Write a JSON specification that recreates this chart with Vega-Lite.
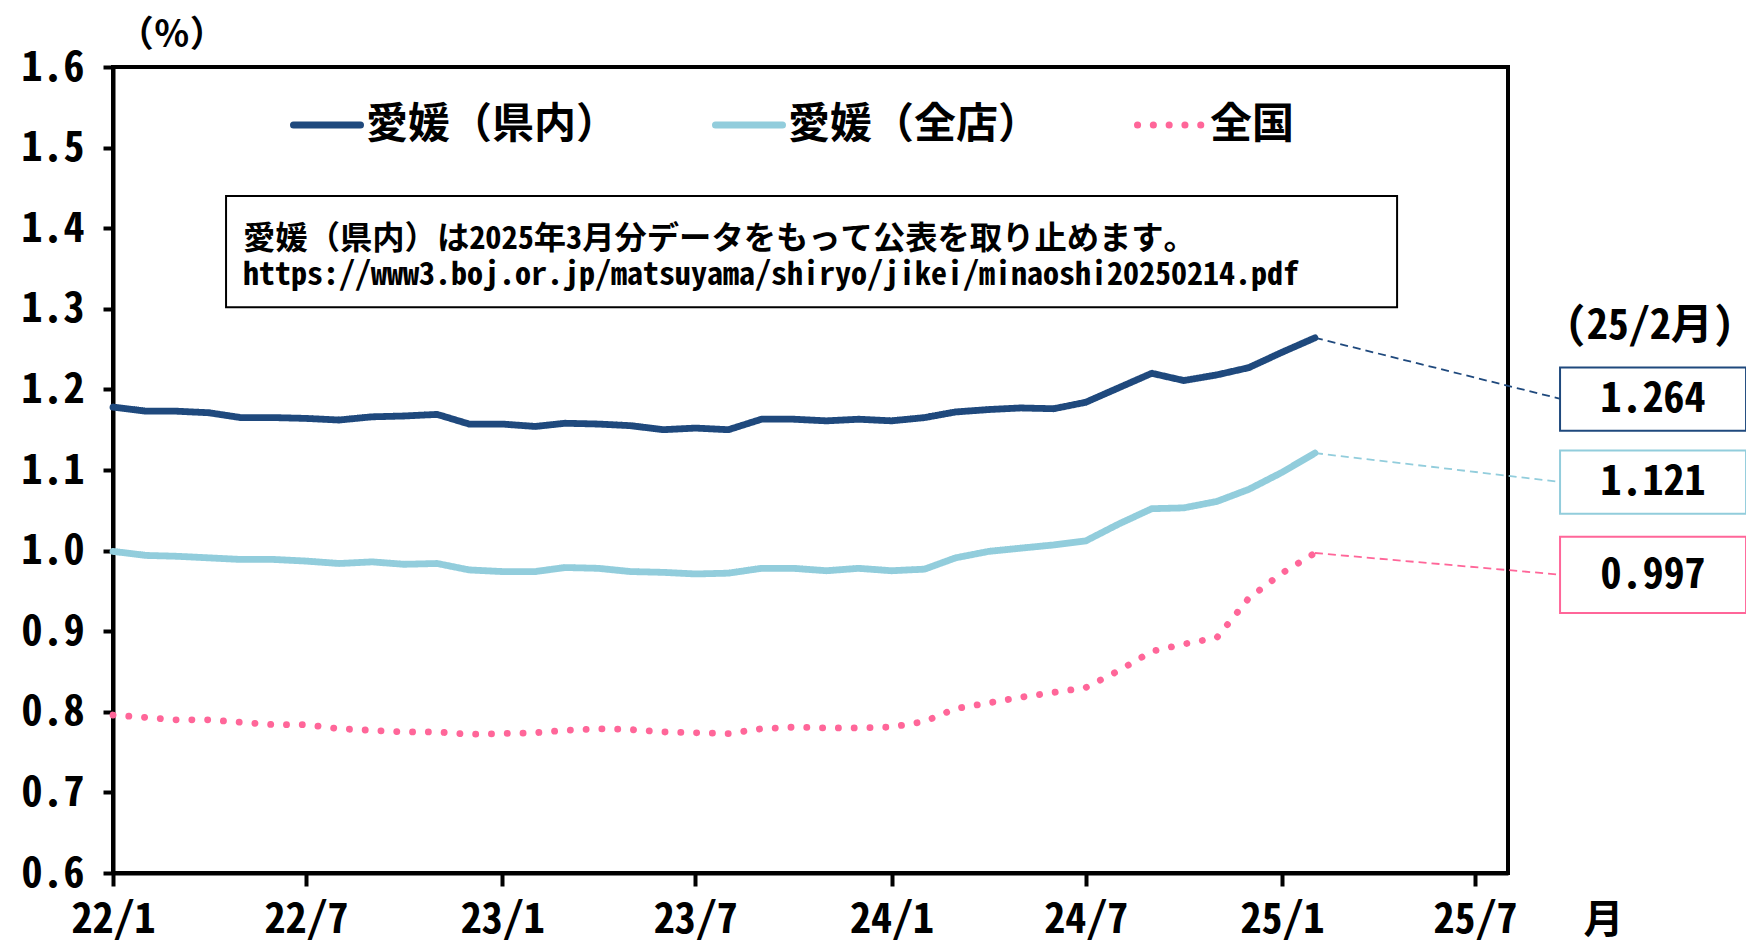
{
  "$schema": "https://vega.github.io/schema/vega-lite/v6.json",
  "width": 1395,
  "height": 806,
  "autosize": {"type": "none"},
  "padding": {"left": 113, "top": 67, "right": 238, "bottom": 67},
  "background": "white",
  "config": {
    "view": {"stroke": "#000000", "strokeWidth": 4},
    "font": "Noto Sans Mono CJK JP, Noto Sans CJK JP"
  },
  "data": {"values": [
    {"date": "2022-01-01", "series": "愛媛（県内）", "value": 1.178},
    {"date": "2022-02-01", "series": "愛媛（県内）", "value": 1.173},
    {"date": "2022-03-01", "series": "愛媛（県内）", "value": 1.173},
    {"date": "2022-04-01", "series": "愛媛（県内）", "value": 1.171},
    {"date": "2022-05-01", "series": "愛媛（県内）", "value": 1.165},
    {"date": "2022-06-01", "series": "愛媛（県内）", "value": 1.165},
    {"date": "2022-07-01", "series": "愛媛（県内）", "value": 1.164},
    {"date": "2022-08-01", "series": "愛媛（県内）", "value": 1.162},
    {"date": "2022-09-01", "series": "愛媛（県内）", "value": 1.166},
    {"date": "2022-10-01", "series": "愛媛（県内）", "value": 1.167},
    {"date": "2022-11-01", "series": "愛媛（県内）", "value": 1.169},
    {"date": "2022-12-01", "series": "愛媛（県内）", "value": 1.157},
    {"date": "2023-01-01", "series": "愛媛（県内）", "value": 1.157},
    {"date": "2023-02-01", "series": "愛媛（県内）", "value": 1.154},
    {"date": "2023-03-01", "series": "愛媛（県内）", "value": 1.158},
    {"date": "2023-04-01", "series": "愛媛（県内）", "value": 1.157},
    {"date": "2023-05-01", "series": "愛媛（県内）", "value": 1.155},
    {"date": "2023-06-01", "series": "愛媛（県内）", "value": 1.150},
    {"date": "2023-07-01", "series": "愛媛（県内）", "value": 1.152},
    {"date": "2023-08-01", "series": "愛媛（県内）", "value": 1.150},
    {"date": "2023-09-01", "series": "愛媛（県内）", "value": 1.163},
    {"date": "2023-10-01", "series": "愛媛（県内）", "value": 1.163},
    {"date": "2023-11-01", "series": "愛媛（県内）", "value": 1.161},
    {"date": "2023-12-01", "series": "愛媛（県内）", "value": 1.163},
    {"date": "2024-01-01", "series": "愛媛（県内）", "value": 1.161},
    {"date": "2024-02-01", "series": "愛媛（県内）", "value": 1.165},
    {"date": "2024-03-01", "series": "愛媛（県内）", "value": 1.172},
    {"date": "2024-04-01", "series": "愛媛（県内）", "value": 1.175},
    {"date": "2024-05-01", "series": "愛媛（県内）", "value": 1.177},
    {"date": "2024-06-01", "series": "愛媛（県内）", "value": 1.176},
    {"date": "2024-07-01", "series": "愛媛（県内）", "value": 1.184},
    {"date": "2024-08-01", "series": "愛媛（県内）", "value": 1.202},
    {"date": "2024-09-01", "series": "愛媛（県内）", "value": 1.220},
    {"date": "2024-10-01", "series": "愛媛（県内）", "value": 1.211},
    {"date": "2024-11-01", "series": "愛媛（県内）", "value": 1.218},
    {"date": "2024-12-01", "series": "愛媛（県内）", "value": 1.227},
    {"date": "2025-01-01", "series": "愛媛（県内）", "value": 1.246},
    {"date": "2025-02-01", "series": "愛媛（県内）", "value": 1.264},
    {"date": "2022-01-01", "series": "愛媛（全店）", "value": 0.999},
    {"date": "2022-02-01", "series": "愛媛（全店）", "value": 0.994},
    {"date": "2022-03-01", "series": "愛媛（全店）", "value": 0.993},
    {"date": "2022-04-01", "series": "愛媛（全店）", "value": 0.991},
    {"date": "2022-05-01", "series": "愛媛（全店）", "value": 0.989},
    {"date": "2022-06-01", "series": "愛媛（全店）", "value": 0.989},
    {"date": "2022-07-01", "series": "愛媛（全店）", "value": 0.987},
    {"date": "2022-08-01", "series": "愛媛（全店）", "value": 0.984},
    {"date": "2022-09-01", "series": "愛媛（全店）", "value": 0.986},
    {"date": "2022-10-01", "series": "愛媛（全店）", "value": 0.983},
    {"date": "2022-11-01", "series": "愛媛（全店）", "value": 0.984},
    {"date": "2022-12-01", "series": "愛媛（全店）", "value": 0.976},
    {"date": "2023-01-01", "series": "愛媛（全店）", "value": 0.974},
    {"date": "2023-02-01", "series": "愛媛（全店）", "value": 0.974},
    {"date": "2023-03-01", "series": "愛媛（全店）", "value": 0.979},
    {"date": "2023-04-01", "series": "愛媛（全店）", "value": 0.978},
    {"date": "2023-05-01", "series": "愛媛（全店）", "value": 0.974},
    {"date": "2023-06-01", "series": "愛媛（全店）", "value": 0.973},
    {"date": "2023-07-01", "series": "愛媛（全店）", "value": 0.971},
    {"date": "2023-08-01", "series": "愛媛（全店）", "value": 0.972},
    {"date": "2023-09-01", "series": "愛媛（全店）", "value": 0.978},
    {"date": "2023-10-01", "series": "愛媛（全店）", "value": 0.978},
    {"date": "2023-11-01", "series": "愛媛（全店）", "value": 0.975},
    {"date": "2023-12-01", "series": "愛媛（全店）", "value": 0.978},
    {"date": "2024-01-01", "series": "愛媛（全店）", "value": 0.975},
    {"date": "2024-02-01", "series": "愛媛（全店）", "value": 0.977},
    {"date": "2024-03-01", "series": "愛媛（全店）", "value": 0.991},
    {"date": "2024-04-01", "series": "愛媛（全店）", "value": 0.999},
    {"date": "2024-05-01", "series": "愛媛（全店）", "value": 1.003},
    {"date": "2024-06-01", "series": "愛媛（全店）", "value": 1.007},
    {"date": "2024-07-01", "series": "愛媛（全店）", "value": 1.012},
    {"date": "2024-08-01", "series": "愛媛（全店）", "value": 1.033},
    {"date": "2024-09-01", "series": "愛媛（全店）", "value": 1.052},
    {"date": "2024-10-01", "series": "愛媛（全店）", "value": 1.053},
    {"date": "2024-11-01", "series": "愛媛（全店）", "value": 1.061},
    {"date": "2024-12-01", "series": "愛媛（全店）", "value": 1.076},
    {"date": "2025-01-01", "series": "愛媛（全店）", "value": 1.097},
    {"date": "2025-02-01", "series": "愛媛（全店）", "value": 1.121},
    {"date": "2022-01-01", "series": "全国", "value": 0.796},
    {"date": "2022-02-01", "series": "全国", "value": 0.793},
    {"date": "2022-03-01", "series": "全国", "value": 0.790},
    {"date": "2022-04-01", "series": "全国", "value": 0.790},
    {"date": "2022-05-01", "series": "全国", "value": 0.787},
    {"date": "2022-06-01", "series": "全国", "value": 0.784},
    {"date": "2022-07-01", "series": "全国", "value": 0.784},
    {"date": "2022-08-01", "series": "全国", "value": 0.779},
    {"date": "2022-09-01", "series": "全国", "value": 0.777},
    {"date": "2022-10-01", "series": "全国", "value": 0.775},
    {"date": "2022-11-01", "series": "全国", "value": 0.775},
    {"date": "2022-12-01", "series": "全国", "value": 0.772},
    {"date": "2023-01-01", "series": "全国", "value": 0.773},
    {"date": "2023-02-01", "series": "全国", "value": 0.774},
    {"date": "2023-03-01", "series": "全国", "value": 0.777},
    {"date": "2023-04-01", "series": "全国", "value": 0.779},
    {"date": "2023-05-01", "series": "全国", "value": 0.778},
    {"date": "2023-06-01", "series": "全国", "value": 0.775},
    {"date": "2023-07-01", "series": "全国", "value": 0.774},
    {"date": "2023-08-01", "series": "全国", "value": 0.773},
    {"date": "2023-09-01", "series": "全国", "value": 0.779},
    {"date": "2023-10-01", "series": "全国", "value": 0.781},
    {"date": "2023-11-01", "series": "全国", "value": 0.780},
    {"date": "2023-12-01", "series": "全国", "value": 0.780},
    {"date": "2024-01-01", "series": "全国", "value": 0.781},
    {"date": "2024-02-01", "series": "全国", "value": 0.788},
    {"date": "2024-03-01", "series": "全国", "value": 0.804},
    {"date": "2024-04-01", "series": "全国", "value": 0.811},
    {"date": "2024-05-01", "series": "全国", "value": 0.818},
    {"date": "2024-06-01", "series": "全国", "value": 0.824},
    {"date": "2024-07-01", "series": "全国", "value": 0.830},
    {"date": "2024-08-01", "series": "全国", "value": 0.851},
    {"date": "2024-09-01", "series": "全国", "value": 0.875},
    {"date": "2024-10-01", "series": "全国", "value": 0.884},
    {"date": "2024-11-01", "series": "全国", "value": 0.892},
    {"date": "2024-12-01", "series": "全国", "value": 0.941},
    {"date": "2025-01-01", "series": "全国", "value": 0.972},
    {"date": "2025-02-01", "series": "全国", "value": 0.997}
  ]},
  "layer": [
    {
      "mark": {"type": "line", "strokeWidth": 6.8, "strokeCap": "round", "strokeJoin": "round"},
      "encoding": {
        "x": {
          "field": "date", "type": "temporal",
          "scale": {"type": "utc", "domain": [{"year": 2022, "month": 1, "date": 1, "utc": true}, {"year": 2025, "month": 8, "date": 1, "utc": true}]},
          "axis": {
            "values": [
              {"year": 2022, "month": 1, "date": 1, "utc": true},
              {"year": 2022, "month": 7, "date": 1, "utc": true},
              {"year": 2023, "month": 1, "date": 1, "utc": true},
              {"year": 2023, "month": 7, "date": 1, "utc": true},
              {"year": 2024, "month": 1, "date": 1, "utc": true},
              {"year": 2024, "month": 7, "date": 1, "utc": true},
              {"year": 2025, "month": 1, "date": 1, "utc": true},
              {"year": 2025, "month": 7, "date": 1, "utc": true}
            ],
            "format": "%y/%-m",
            "grid": false,
            "labelFlush": false,
            "labelOverlap": false,
            "labelFontSize": 42,
            "labelFontWeight": "bold",
            "labelColor": "#000000",
            "labelPadding": 13,
            "tickSize": 13,
            "tickWidth": 4,
            "tickColor": "#000000",
            "domainColor": "#000000",
            "domainWidth": 4,
            "title": "月",
            "titleFontSize": 40,
            "titleFontWeight": "bold",
            "titleColor": "#000000",
            "titleX": 1490,
            "titleY": 47,
            "titleAlign": "center",
            "titleBaseline": "middle"
          }
        },
        "y": {
          "field": "value", "type": "quantitative",
          "scale": {"domain": [0.6, 1.6], "nice": false, "zero": false},
          "axis": {
            "values": [0.6, 0.7, 0.8, 0.9, 1.0, 1.1, 1.2, 1.3, 1.4, 1.5, 1.6],
            "format": ".1f",
            "grid": false,
            "labelFontSize": 42,
            "labelFontWeight": "bold",
            "labelColor": "#000000",
            "labelPadding": 19,
            "tickSize": 10,
            "tickWidth": 4,
            "tickColor": "#000000",
            "domainColor": "#000000",
            "domainWidth": 4,
            "title": null
          }
        },
        "color": {
          "field": "series", "type": "nominal",
          "scale": {"domain": ["愛媛（県内）", "愛媛（全店）", "全国"], "range": ["#1F497D", "#92CDDC", "#FF6699"]},
          "legend": {
            "title": null, "orient": "none", "legendX": 177, "legendY": 21, "direction": "horizontal",
            "symbolType": "stroke", "symbolSize": 4489, "symbolStrokeWidth": 7,
            "labelFontSize": 42, "labelFontWeight": "bold", "labelColor": "#000000", "labelOffset": 2, "labelLimit": 400,
            "columnPadding": 82, "padding": 0,
            "encode": {"symbols": {"update": {"strokeCap": {"value": "round"}}}}
          }
        },
        "strokeDash": {
          "field": "series", "type": "nominal",
          "scale": {"domain": ["愛媛（県内）", "愛媛（全店）", "全国"], "range": [[1, 0], [1, 0], [0.1, 15.7]]},
          "legend": {
            "title": null, "orient": "none", "legendX": 177, "legendY": 21, "direction": "horizontal",
            "symbolType": "stroke", "symbolSize": 4489, "symbolStrokeWidth": 7,
            "labelFontSize": 42, "labelFontWeight": "bold", "labelColor": "#000000", "labelOffset": 2, "labelLimit": 400,
            "columnPadding": 82, "padding": 0,
            "encode": {"symbols": {"update": {"strokeCap": {"value": "round"}}}}
          }
        }
      }
    },
    {
      "data": {"values": [{}]},
      "mark": {"type": "text", "text": "（％）", "align": "center", "baseline": "middle", "fontSize": 36, "fontWeight": "bold", "color": "#000000"},
      "encoding": {
        "x": {"datum": {"year": 2022, "month": 2, "date": 25, "utc": true}, "type": "temporal"},
        "y": {"datum": 1.638, "type": "quantitative"}
      }
    },
    {
      "data": {"values": [{}]},
      "mark": {"type": "rect", "fill": "white", "stroke": "#000000", "strokeWidth": 2},
      "encoding": {
        "x": {"datum": {"year": 2022, "month": 4, "date": 17, "utc": true}, "type": "temporal"},
        "x2": {"datum": {"year": 2025, "month": 4, "date": 19, "utc": true}},
        "y": {"datum": 1.44, "type": "quantitative"},
        "y2": {"datum": 1.302}
      }
    },
    {
      "data": {"values": [{}]},
      "mark": {"type": "text", "text": "愛媛（県内）は2025年3月分データをもって公表を取り止めます。", "align": "left", "baseline": "middle", "fontSize": 32.3, "fontWeight": "bold", "color": "#000000"},
      "encoding": {
        "x": {"datum": {"year": 2022, "month": 5, "date": 3, "utc": true}, "type": "temporal"},
        "y": {"datum": 1.387, "type": "quantitative"}
      }
    },
    {
      "data": {"values": [{}]},
      "mark": {"type": "text", "text": "https://www3.boj.or.jp/matsuyama/shiryo/jikei/minaoshi20250214.pdf", "align": "left", "baseline": "middle", "fontSize": 32, "fontWeight": "bold", "color": "#000000"},
      "encoding": {
        "x": {"datum": {"year": 2022, "month": 5, "date": 3, "utc": true}, "type": "temporal"},
        "y": {"datum": 1.342, "type": "quantitative"}
      }
    },
    {
      "data": {"values": [{}]},
      "mark": {"type": "text", "text": "(25/2月)", "align": "center", "baseline": "middle", "fontSize": 42, "fontWeight": "bold", "color": "#000000"},
      "encoding": {
        "x": {"datum": {"year": 2025, "month": 12, "date": 12, "utc": true}, "type": "temporal"},
        "y": {"datum": 1.279, "type": "quantitative"}
      }
    },
    {
      "transform": [{"filter": "datum.series === '愛媛（県内）' && utcyear(datum.date) === 2025 && utcmonth(datum.date) === 1"}],
      "layer": [
        {
          "mark": {"type": "rule", "color": "#1F497D", "strokeWidth": 1.8, "strokeDash": [8, 5]},
          "encoding": {
            "x": {"field": "date", "type": "temporal"},
            "y": {"field": "value", "type": "quantitative"},
            "x2": {"datum": {"year": 2025, "month": 9, "date": 20, "utc": true}},
            "y2": {"datum": 1.188}
          }
        },
        {
          "mark": {"type": "point", "shape": "M-1,-0.34H1V0.34H-1Z", "size": 34596, "filled": true, "fill": "white", "stroke": "#1F497D", "strokeWidth": 2, "opacity": 1},
          "encoding": {
            "x": {"datum": {"year": 2025, "month": 12, "date": 15, "utc": true}, "type": "temporal"},
            "y": {"datum": 1.188, "type": "quantitative"}
          }
        },
        {
          "mark": {"type": "text", "align": "center", "baseline": "middle", "fontSize": 42, "fontWeight": "bold", "color": "#000000"},
          "encoding": {
            "x": {"datum": {"year": 2025, "month": 12, "date": 15, "utc": true}, "type": "temporal"},
            "y": {"datum": 1.188, "type": "quantitative"},
            "text": {"field": "value", "type": "quantitative", "format": ".3f"}
          }
        }
      ]
    },
    {
      "transform": [{"filter": "datum.series === '愛媛（全店）' && utcyear(datum.date) === 2025 && utcmonth(datum.date) === 1"}],
      "layer": [
        {
          "mark": {"type": "rule", "color": "#92CDDC", "strokeWidth": 1.8, "strokeDash": [8, 5]},
          "encoding": {
            "x": {"field": "date", "type": "temporal"},
            "y": {"field": "value", "type": "quantitative"},
            "x2": {"datum": {"year": 2025, "month": 9, "date": 20, "utc": true}},
            "y2": {"datum": 1.085}
          }
        },
        {
          "mark": {"type": "point", "shape": "M-1,-0.34H1V0.34H-1Z", "size": 34596, "filled": true, "fill": "white", "stroke": "#92CDDC", "strokeWidth": 2, "opacity": 1},
          "encoding": {
            "x": {"datum": {"year": 2025, "month": 12, "date": 15, "utc": true}, "type": "temporal"},
            "y": {"datum": 1.085, "type": "quantitative"}
          }
        },
        {
          "mark": {"type": "text", "align": "center", "baseline": "middle", "fontSize": 42, "fontWeight": "bold", "color": "#000000"},
          "encoding": {
            "x": {"datum": {"year": 2025, "month": 12, "date": 15, "utc": true}, "type": "temporal"},
            "y": {"datum": 1.085, "type": "quantitative"},
            "text": {"field": "value", "type": "quantitative", "format": ".3f"}
          }
        }
      ]
    },
    {
      "transform": [{"filter": "datum.series === '全国' && utcyear(datum.date) === 2025 && utcmonth(datum.date) === 1"}],
      "layer": [
        {
          "mark": {"type": "rule", "color": "#FF6699", "strokeWidth": 1.8, "strokeDash": [8, 5]},
          "encoding": {
            "x": {"field": "date", "type": "temporal"},
            "y": {"field": "value", "type": "quantitative"},
            "x2": {"datum": {"year": 2025, "month": 9, "date": 20, "utc": true}},
            "y2": {"datum": 0.97}
          }
        },
        {
          "mark": {"type": "point", "shape": "M-1,-0.41H1V0.41H-1Z", "size": 34596, "filled": true, "fill": "white", "stroke": "#FF6699", "strokeWidth": 2, "opacity": 1},
          "encoding": {
            "x": {"datum": {"year": 2025, "month": 12, "date": 15, "utc": true}, "type": "temporal"},
            "y": {"datum": 0.97, "type": "quantitative"}
          }
        },
        {
          "mark": {"type": "text", "align": "center", "baseline": "middle", "fontSize": 42, "fontWeight": "bold", "color": "#000000"},
          "encoding": {
            "x": {"datum": {"year": 2025, "month": 12, "date": 15, "utc": true}, "type": "temporal"},
            "y": {"datum": 0.97, "type": "quantitative"},
            "text": {"field": "value", "type": "quantitative", "format": ".3f"}
          }
        }
      ]
    }
  ]
}
